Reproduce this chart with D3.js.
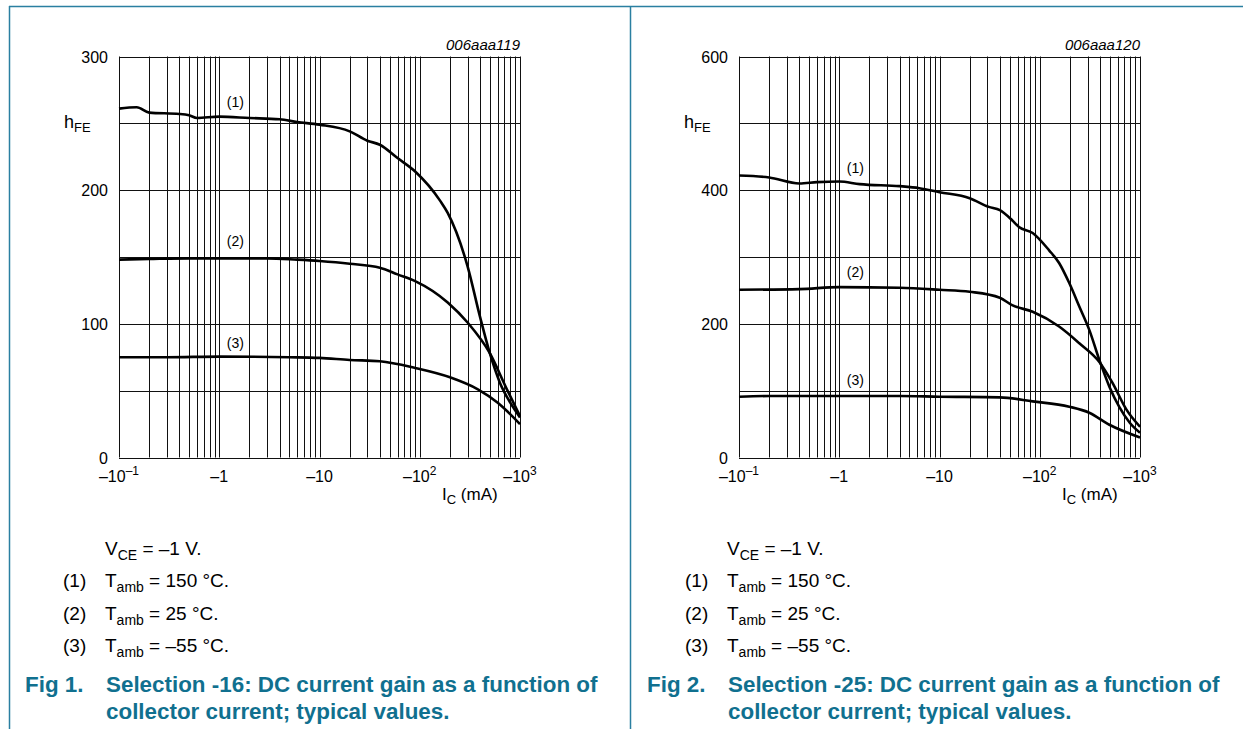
<!DOCTYPE html>
<html>
<head>
<meta charset="utf-8">
<script src="https://cdn.jsdelivr.net/npm/d3@7"></script>
<style>
  body { margin: 0; background: #fff; }
  svg text { font-family: "Liberation Sans", Arial, sans-serif; }
</style>
</head>
<body>
<div id="chart-area"></div>
<script>

var width = 1243,
    height = 729;

// collector current (mA, magnitude) and hFE
var sel16_150_ic  = [0.1, 0.15, 0.2, 0.4, 0.5, 0.6, 1, 2, 4, 6, 10, 20, 30, 40, 60, 90, 160, 190, 300, 400, 500, 630, 800, 1000];
var sel16_150_hfe = [261, 262, 258, 257, 256, 254, 255, 254, 253, 251, 249, 244, 237, 234, 224, 214, 192, 183, 143, 105, 78, 56, 41, 30];
var sel16_25_ic   = [0.1, 0.2, 0.5, 1, 3, 6, 10, 20, 40, 60, 90, 190, 300, 500, 740, 1000];
var sel16_25_hfe  = [148, 148.5, 149, 149, 149, 148, 147, 145, 142, 137, 132, 116, 101, 78, 51, 31];
var sel16_m55_ic  = [0.1, 0.3, 1, 5, 10, 20, 40, 90, 200, 380, 600, 1000];
var sel16_m55_hfe = [75, 75, 75.5, 75, 74.5, 73, 72, 67, 60, 51, 41, 25];

var sel25_150_ic  = [0.1, 0.2, 0.4, 0.6, 1, 1.6, 4, 6.3, 10, 20, 31, 40, 53, 62, 85, 124, 156, 197, 248, 312, 393, 495, 625, 790, 1000];
var sel25_150_hfe = [422, 419, 410, 412, 413, 409, 406, 403, 397, 388, 375, 370, 355, 345, 336, 310, 291, 261, 226, 191, 146, 106, 75, 52, 37];
var sel25_25_ic   = [0.1, 0.4, 1, 4, 10, 20, 40, 53, 85, 156, 248, 393, 530, 730, 1000];
var sel25_25_hfe  = [251, 252, 255, 254, 251, 248, 239, 228, 218, 196, 171, 143, 112, 72, 46];
var sel25_m55_ic  = [0.1, 0.2, 1, 4, 10, 40, 85, 197, 312, 495, 1000];
var sel25_m55_hfe = [91, 92, 92, 92, 91, 90, 84, 76, 67, 49, 30];

var xTickExp = [-1, 0, 1, 2, 3];
var curveNames = ["(1)", "(2)", "(3)"];
var legendLines = ["150 °C.", "25 °C.", "–55 °C."];

var svg = d3.select("#chart-area").append("svg")
    .attr("width", width)
    .attr("height", height);

var frameColor = "#2a7fa1",
    capColor = "#10708f";

// frame
svg.append("line").attr("x1", 9).attr("x2", width).attr("y1", 6.5).attr("y2", 6.5)
    .attr("stroke", frameColor).attr("stroke-width", 1.5);
svg.append("line").attr("x1", 9.5).attr("x2", 9.5).attr("y1", 6).attr("y2", height)
    .attr("stroke", frameColor).attr("stroke-width", 1.5);
svg.append("line").attr("x1", 630.5).attr("x2", 630.5).attr("y1", 6).attr("y2", height)
    .attr("stroke", frameColor).attr("stroke-width", 1.5);

function zip(a, b) { return a.map(function(d, i) { return [d, b[i]]; }); }

function drawPanel(p) {
  var g = svg.append("g").attr("transform", "translate(" + p.dx + ",0)");

  var x = d3.scaleLog().domain([0.1, 1000]).range([119, 520]);
  var y = d3.scaleLinear().domain([0, p.ymax]).range([457.5, 56.5]);

  // vertical grid (1..9 per decade)
  g.selectAll(".vgrid")
      .data(x.ticks())
      .enter()
      .append("line")
      .attr("x1", d => Math.round(x(d)) + 0.5)
      .attr("x2", d => Math.round(x(d)) + 0.5)
      .attr("y1", y(0)).attr("y2", y(p.ymax))
      .attr("stroke", "#111").attr("stroke-width", 1);

  // horizontal grid
  g.selectAll(".hgrid")
      .data(d3.range(0, p.ymax + 1, p.ystep))
      .enter()
      .append("line")
      .attr("x1", x(0.1)).attr("x2", x(1000))
      .attr("y1", d => Math.round(y(d)) + 0.5)
      .attr("y2", d => Math.round(y(d)) + 0.5)
      .attr("stroke", "#111").attr("stroke-width", 1);

  // y tick labels
  g.selectAll(".ylab")
      .data(p.ylabels)
      .enter()
      .append("text")
      .attr("x", 108)
      .attr("y", d => y(d) + 6)
      .attr("text-anchor", "end")
      .style("font-size", "16px")
      .text(d => d);

  // hFE
  var h = g.append("text").attr("x", 64).attr("y", y(p.ymax * 5 / 6) + 5)
      .style("font-size", "18px");
  h.append("tspan").text("h");
  h.append("tspan").attr("dy", 4).style("font-size", "13px").text("FE");

  // x tick labels
  xTickExp.forEach(function(e) {
    var t = g.append("text")
        .attr("x", x(Math.pow(10, e)))
        .attr("y", 482)
        .attr("text-anchor", "middle")
        .style("font-size", "16px");
    if (e === 0) t.text("–1");
    else if (e === 1) t.text("–10");
    else {
      t.append("tspan").text("–10");
      t.append("tspan").attr("dy", -7).style("font-size", "12px").text(e < 0 ? "–1" : e);
    }
  });

  // IC (mA)
  var ic = g.append("text").attr("x", 442).attr("y", 500).style("font-size", "17px");
  ic.append("tspan").text("I");
  ic.append("tspan").attr("dy", 4).style("font-size", "13px").text("C");
  ic.append("tspan").attr("dy", -4).text(" (mA)");

  // drawing id
  g.append("text").attr("x", 520).attr("y", 50)
      .attr("text-anchor", "end")
      .style("font-size", "15px").style("font-style", "italic")
      .text(p.id);

  // curves
  var line = d3.line()
      .x(d => x(d[0]))
      .y(d => y(d[1]))
      .curve(d3.curveMonotoneX);

  g.selectAll(".curve")
      .data(p.series)
      .enter()
      .append("path")
      .attr("d", line)
      .attr("fill", "none")
      .attr("stroke", "#000")
      .attr("stroke-width", 2.6);

  g.selectAll(".clab")
      .data(p.labelPos)
      .enter()
      .append("text")
      .attr("x", d => x(d[0]))
      .attr("y", d => y(d[1]))
      .attr("text-anchor", "middle")
      .style("font-size", "14px")
      .text((d, i) => curveNames[i]);

  // notes
  var v = g.append("text").attr("x", 105 + p.cdx).attr("y", 555).style("font-size", "19px");
  v.append("tspan").text("V");
  v.append("tspan").attr("dy", 5).style("font-size", "14px").text("CE");
  v.append("tspan").attr("dy", -5).text(" = –1 V.");

  legendLines.forEach(function(s, i) {
    var yy = 587 + i * 32.5;
    g.append("text").attr("x", 63 + p.cdx).attr("y", yy).style("font-size", "19px").text(curveNames[i]);
    var t = g.append("text").attr("x", 105 + p.cdx).attr("y", yy).style("font-size", "19px");
    t.append("tspan").text("T");
    t.append("tspan").attr("dy", 5).style("font-size", "14px").text("amb");
    t.append("tspan").attr("dy", -5).text(" = " + s);
  });

  // caption
  g.append("text").attr("x", 25 + p.cdx).attr("y", 692)
      .style("font-size", "22.4px").style("font-weight", "bold").attr("fill", capColor)
      .text(p.fig);
  g.append("text").attr("x", 106 + p.cdx).attr("y", 692)
      .style("font-size", "22.4px").style("font-weight", "bold").attr("fill", capColor)
      .text(p.cap1);
  g.append("text").attr("x", 106 + p.cdx).attr("y", 719)
      .style("font-size", "22.4px").style("font-weight", "bold").attr("fill", capColor)
      .text("collector current; typical values.");
}

drawPanel({
  dx: 0, cdx: 0, ymax: 300, ystep: 50, ylabels: [0, 100, 200, 300],
  id: "006aaa119", fig: "Fig 1.",
  cap1: "Selection -16: DC current gain as a function of",
  series: [zip(sel16_150_ic, sel16_150_hfe), zip(sel16_25_ic, sel16_25_hfe), zip(sel16_m55_ic, sel16_m55_hfe)],
  labelPos: [[1.45, 262], [1.45, 158], [1.45, 82]]
});

drawPanel({
  dx: 620, cdx: 2, ymax: 600, ystep: 100, ylabels: [0, 200, 400, 600],
  id: "006aaa120", fig: "Fig 2.",
  cap1: "Selection -25: DC current gain as a function of",
  series: [zip(sel25_150_ic, sel25_150_hfe), zip(sel25_25_ic, sel25_25_hfe), zip(sel25_m55_ic, sel25_m55_hfe)],
  labelPos: [[1.45, 425], [1.45, 270], [1.45, 108]]
});

</script>
</body>
</html>
